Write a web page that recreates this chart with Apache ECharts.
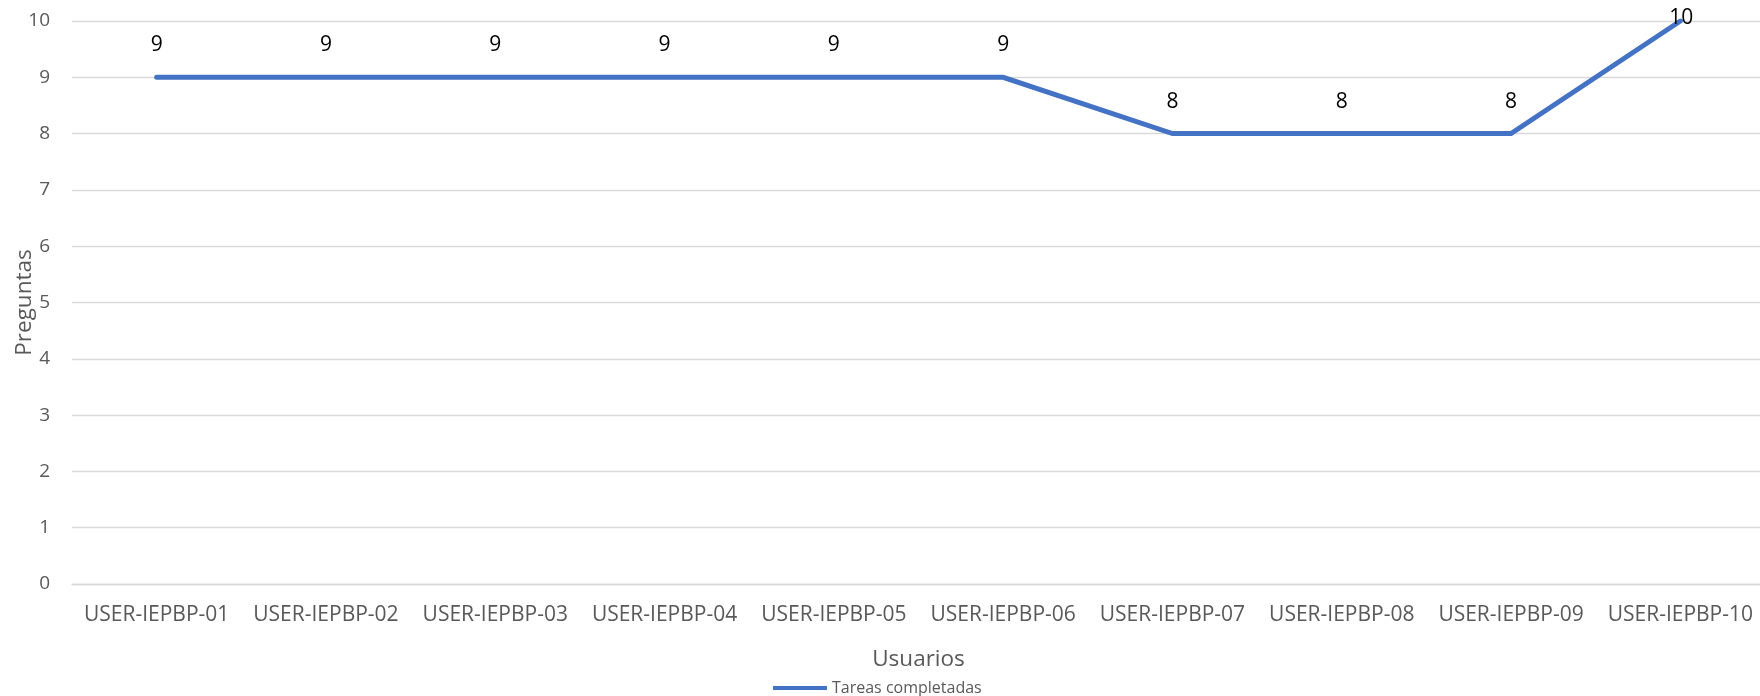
<!DOCTYPE html>
<html>
<head>
<meta charset="utf-8">
<script src="https://cdn.jsdelivr.net/npm/echarts@6/dist/echarts.min.js"></script>
<style>
html,body{margin:0;padding:0;background:#fff;}
#chart{width:1760px;height:696px;}
</style>
</head>
<body>
<div id="chart"></div>
<script>
const categories = ['USER-IEPBP-01','USER-IEPBP-02','USER-IEPBP-03','USER-IEPBP-04','USER-IEPBP-05','USER-IEPBP-06','USER-IEPBP-07','USER-IEPBP-08','USER-IEPBP-09','USER-IEPBP-10'];
const tareasCompletadas = [9, 9, 9, 9, 9, 9, 8, 8, 8, 10];
const seriesName = 'Tareas completadas';
const xAxisName = 'Usuarios';
const yAxisName = 'Preguntas';

const FONT = '"Open Sans", "Noto Sans", sans-serif';
const chart = echarts.init(document.getElementById('chart'), null, {renderer: 'canvas'});

const data = tareasCompletadas.map((v, i) => {
  const last = i === tareasCompletadas.length - 1;
  return {
    value: v,
    label: { offset: last ? [1, -3] : [0, -32] }
  };
});

chart.setOption({
  animation: false,
  backgroundColor: '#ffffff',
  grid: { left: 72, top: 21, width: 1693, height: 563, containLabel: false, outerBoundsMode: 'none' },
  legend: {
    data: [seriesName],
    bottom: -5,
    left: 768,
    icon: 'rect',
    itemWidth: 54,
    itemHeight: 4,
    textStyle: { fontFamily: FONT, fontSize: 16, color: '#595959' }
  },
  xAxis: {
    type: 'category',
    data: categories,
    boundaryGap: true,
    name: xAxisName,
    nameLocation: 'middle',
    nameGap: 64,
    nameMoveOverlap: false,
    nameTextStyle: { fontFamily: FONT, fontSize: 22.5, color: '#595959' },
    axisLine: { show: true, lineStyle: { color: '#d9d9d9', width: 1.3 } },
    axisTick: { show: false },
    axisLabel: { fontFamily: FONT, fontSize: 21, color: '#595959', margin: 21, interval: 0 },
    splitLine: { show: false }
  },
  yAxis: {
    type: 'value',
    min: 0,
    max: 10,
    interval: 1,
    name: yAxisName,
    nameLocation: 'middle',
    nameGap: 36,
    nameRotate: 90,
    nameMoveOverlap: false,
    nameTextStyle: { fontFamily: FONT, fontSize: 22.5, color: '#595959' },
    axisLine: { show: false },
    axisTick: { show: false },
    axisLabel: { fontFamily: FONT, fontSize: 19, color: '#595959', margin: 22 },
    splitLine: { show: true, lineStyle: { color: '#d9d9d9', width: 1.3 } }
  },
  series: [{
    name: seriesName,
    type: 'line',
    data: data,
    showSymbol: true,
    symbol: 'circle',
    symbolSize: 0.1,
    lineStyle: { color: '#4472C4', width: 5, cap: 'round', join: 'miter' },
    itemStyle: { color: '#4472C4' },
    label: {
      show: true,
      position: 'inside',
      fontFamily: FONT,
      fontSize: 21,
      color: '#000000'
    }
  }]
});
</script>
</body>
</html>
